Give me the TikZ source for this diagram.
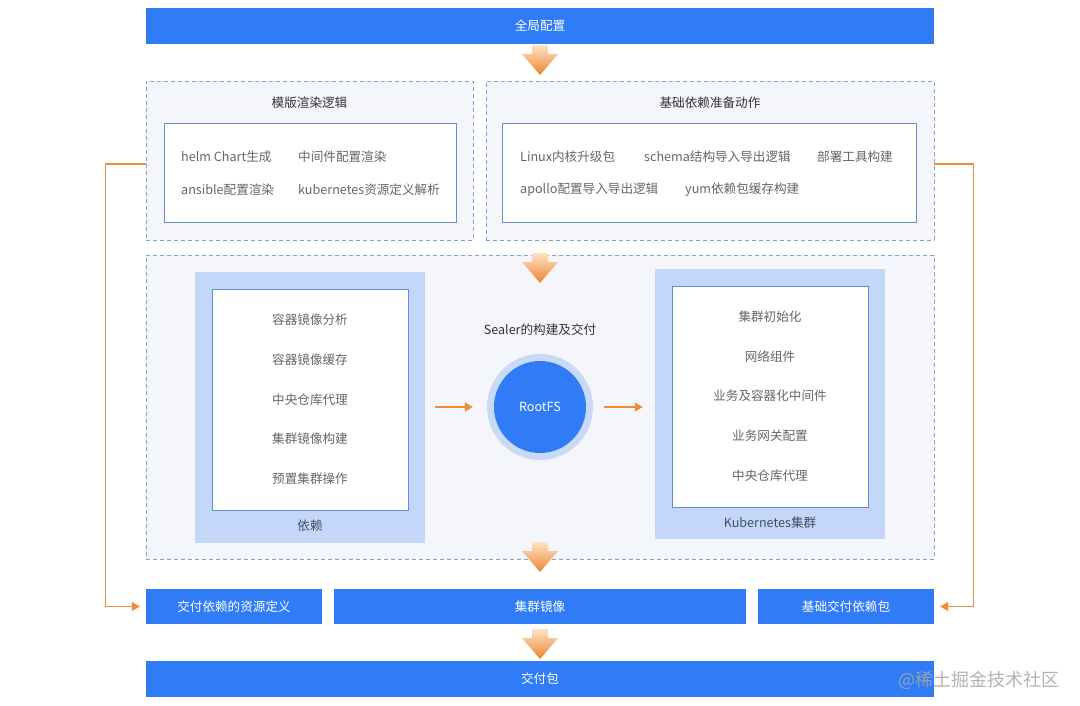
\documentclass[tikz,border=0pt]{standalone}
\usepackage{fontspec}
\setmainfont{Noto Sans CJK SC}
\usetikzlibrary{arrows.meta}
\definecolor{barblue}{HTML}{2F7CF6}
\definecolor{dashblue}{HTML}{7FA3DA}
\definecolor{dashfill}{HTML}{F4F6FC}
\definecolor{innerline}{HTML}{5F8FD8}
\definecolor{panelblue}{HTML}{C4D7F8}
\definecolor{ringblue}{HTML}{C9DAF7}
\definecolor{orangeline}{HTML}{EE8D3A}
\definecolor{arrowlight}{HTML}{FCE3C6}
\definecolor{arrowdark}{HTML}{EE8530}
\definecolor{itemgray}{HTML}{666666}
\definecolor{titledark}{HTML}{333333}
\definecolor{labeldark}{HTML}{3E4E6C}
\tikzset{
  bar/.style={rectangle, fill=barblue, text=white, inner sep=0pt, font=\fontsize{12.6}{15}\selectfont},
  dashbox/.style={rectangle, draw=dashblue, fill=dashfill, dash pattern=on 4pt off 3pt, line width=0.8pt, inner sep=0pt},
  innerbox/.style={rectangle, draw=innerline, fill=white, line width=1pt, inner sep=0pt},
  panel/.style={rectangle, fill=panelblue, inner sep=0pt},
  item/.style={text=itemgray, inner sep=0pt, font=\fontsize{12.6}{15}\selectfont},
  ttl/.style={text=titledark, inner sep=0pt, font=\fontsize{12.6}{15}\selectfont},
  lbl/.style={text=labeldark, inner sep=0pt, font=\fontsize{12.6}{15}\selectfont},
  link/.style={draw=orangeline, line width=1.3pt, -{Triangle[length=8pt,width=9pt]}},
  fatarrow/.pic={\path[top color=arrowlight, bottom color=arrowdark, draw=none]
     (-8,-30) -- (8,-30) -- (8,-21) -- (18,-21) -- (0,0) -- (-18,-21) -- (-8,-21) -- cycle;}
}
\begin{document}
\begin{tikzpicture}[x=1pt,y=-1pt]
\useasboundingbox[fill=white] (0,0) rectangle (1080,706);

% top bar
\node[bar, minimum width=788, minimum height=36] (global) at (540,26) {全局配置};

% template box
\node[dashbox, minimum width=327, minimum height=159] (tmpl) at (309.5,160.5) {};
\node[ttl] (tmplttl) at (309.5,103) {模版渲染逻辑};
\node[innerbox, minimum width=292, minimum height=99] (tmplin) at (310,173.5) {};
\node[item, anchor=west] (t1) at (181,157) {helm Chart生成};
\node[item, anchor=west] (t2) at (298,157) {中间件配置渲染};
\node[item, anchor=west] (t3) at (181,190) {ansible配置渲染};
\node[item, anchor=west] (t4) at (298,190) {kubernetes资源定义解析};

% preparation box
\node[dashbox, minimum width=448, minimum height=159] (prep) at (710,160.5) {};
\node[ttl] (prepttl) at (710,103) {基础依赖准备动作};
\node[innerbox, minimum width=414, minimum height=99] (prepin) at (709,173.5) {};
\node[item, anchor=west] (p1) at (520,157) {Linux内核升级包};
\node[item, anchor=west] (p2) at (644,157) {schema结构导入导出逻辑};
\node[item, anchor=west] (p3) at (817,157) {部署工具构建};
\node[item, anchor=west] (p4) at (520,190) {apollo配置导入导出逻辑};
\node[item, anchor=west] (p5) at (685,190) {yum依赖包缓存构建};

% middle box
\node[dashbox, minimum width=788, minimum height=304] (mid) at (540,407) {};

% dependencies panel
\node[panel, minimum width=230, minimum height=271] (deps) at (310,407.5) {};
\node[innerbox, minimum width=196, minimum height=221] (depsin) at (310,399.5) {};
\node[item] (d1) at (310,320) {容器镜像分析};
\node[item] (d2) at (310,360) {容器镜像缓存};
\node[item] (d3) at (310,400) {中央仓库代理};
\node[item] (d4) at (310,439) {集群镜像构建};
\node[item] (d5) at (310,479) {预置集群操作};
\node[lbl] (depslbl) at (310,526) {依赖};

% kubernetes panel
\node[panel, minimum width=230, minimum height=270] (k8s) at (770,404) {};
\node[innerbox, minimum width=196, minimum height=221] (k8sin) at (770,396.5) {};
\node[item] (k1) at (770,317) {集群初始化};
\node[item] (k2) at (770,357) {网络组件};
\node[item] (k3) at (770,396) {业务及容器化中间件};
\node[item] (k4) at (770,436) {业务网关配置};
\node[item] (k5) at (770,476) {中央仓库代理};
\node[lbl] (k8slbl) at (770,523) {Kubernetes集群};

% rootfs
\node[ttl] (sealer) at (540,330) {Sealer的构建及交付};
\node[circle, fill=ringblue, minimum size=106, inner sep=0pt] (rootout) at (540,407) {};
\node[circle, fill=barblue, minimum size=92, inner sep=0pt, text=white, font=\fontsize{12.6}{15}\selectfont] (root) at (540,407) {RootFS};

\draw[link, shorten <=10pt, shorten >=14pt] (deps.east |- rootout.west) -- (rootout.west);
\draw[link, shorten <=11pt, shorten >=12pt] (rootout.east) -- (k8s.west |- rootout.east);

% bottom row
\node[bar, minimum width=176, minimum height=35] (b1) at (234,606.5) {交付依赖的资源定义};
\node[bar, minimum width=412, minimum height=35] (b2) at (540,606.5) {集群镜像};
\node[bar, minimum width=176, minimum height=35] (b3) at (846,606.5) {基础交付依赖包};
\node[bar, minimum width=788, minimum height=36] (final) at (540,679) {交付包};

% side connectors
\draw[link, shorten >=6pt] ([yshift=-3.5pt]tmpl.west) -- ++(-40,0) |- (b1.west);
\draw[link, shorten >=6pt] ([yshift=-3.5pt]prep.east) -- ++(39,0) |- (b3.east);

% fat arrows
\pic at (540,75) {fatarrow};
\pic at (540,283) {fatarrow};
\pic at (540,572) {fatarrow};
\pic at (540,659) {fatarrow};

% watermark
\node[text=gray!70, opacity=0.85, inner sep=0pt, font=\fontsize{18}{20}\selectfont] (wm) at (979,680) {@稀土掘金技术社区};
\end{tikzpicture}
\end{document}
